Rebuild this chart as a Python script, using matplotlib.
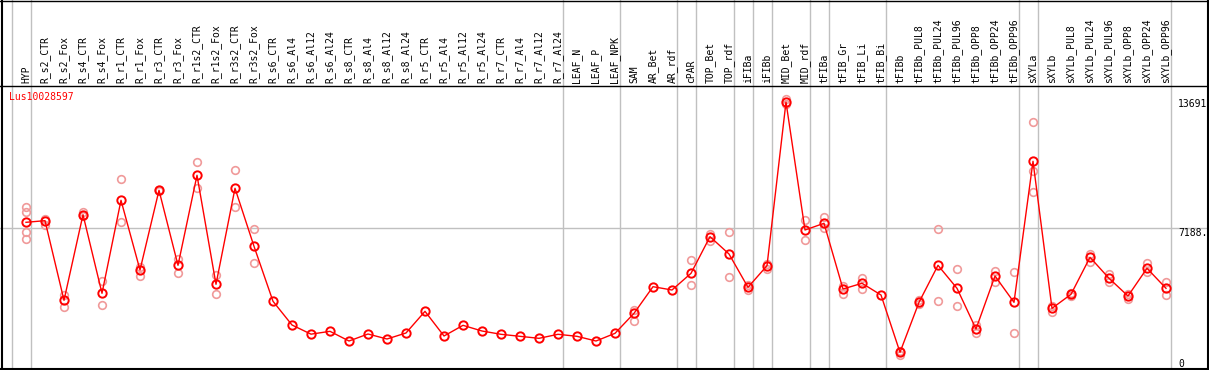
import matplotlib.pyplot as plt
from matplotlib.lines import Line2D
from matplotlib import transforms

plt.rcParams["font.family"] = "DejaVu Sans Mono"

gene = "Lus10028597"

samples = ["HYP", "R_s2_CTR", "R_s2_Fox", "R_s4_CTR", "R_s4_Fox", "R_r1_CTR",
           "R_r1_Fox", "R_r3_CTR", "R_r3_Fox", "R_r1s2_CTR", "R_r1s2_Fox",
           "R_r3s2_CTR", "R_r3s2_Fox", "R_s6_CTR", "R_s6_Al4", "R_s6_Al12",
           "R_s6_Al24", "R_s8_CTR", "R_s8_Al4", "R_s8_Al12", "R_s8_Al24",
           "R_r5_CTR", "R_r5_Al4", "R_r5_Al12", "R_r5_Al24", "R_r7_CTR",
           "R_r7_Al4", "R_r7_Al12", "R_r7_Al24", "LEAF_N", "LEAF_P", "LEAF_NPK",
           "SAM", "AR_Bet", "AR_rdf", "cPAR", "TOP_Bet", "TOP_rdf", "iFIBa",
           "iFIBb", "MID_Bet", "MID_rdf", "tFIBa", "tFIB_Gr", "tFIB_Li",
           "tFIB_Bi", "tFIBb", "tFIBb_PUL8", "tFIBb_PUL24", "tFIBb_PUL96",
           "tFIBb_OPP8", "tFIBb_OPP24", "tFIBb_OPP96", "sXYLa", "sXYLb",
           "sXYLb_PUL8", "sXYLb_PUL24", "sXYLb_PUL96", "sXYLb_OPP8",
           "sXYLb_OPP24", "sXYLb_OPP96"]

# mean expression per sample
means = [7452, 7535, 3490, 7838, 3845, 8570, 5029, 9078, 5268, 9840, 4303,
         9180, 6233, 3439, 2235, 1770, 1914, 1422, 1778, 1524, 1829, 2929,
         1676, 2218, 1930, 1763, 1660, 1558, 1763, 1660, 1422, 1812, 2828,
         4181, 4013, 4860, 6722, 5842, 4150, 5248, 13560, 7061, 7401, 4064,
         4354, 3759, 848, 3388, 5268, 4099, 2032, 4724, 3388, 10551, 3082,
         3794, 5674, 4608, 3708, 5116, 4099]

# individual replicates (empty where hidden under the mean marker)
replicates = [
    [8214, 7991, 6944, 6589], [7605, 7315], [3759, 3134], [7991, 7772],
    [4486, 3251], [9637, 7452], [5197, 4740], [9100, 9050], [5573, 4892],
    [10500, 9180], [4775, 3810], [10094, 8214], [7097, 5370],
    [], [], [], [], [], [], [], [], [], [], [], [], [], [], [], [], [], [], [],
    [2997, 2454], [], [], [5522, 4252], [6858, 6518], [6944, 4658],
    [4267, 4013], [5319, 5095], [13691, 13462], [7569, 6538], [7737, 7178],
    [4232, 3810], [4608, 4064], [], [930, 710], [3505, 3287], [7097, 3439],
    [5065, 3185], [2235, 1812], [4978, 4435], [4912, 1812],
    [12532, 10058, 9007], [3200, 2880], [3876, 3708], [5842, 5451],
    [4811, 4420], [3794, 3541], [5370, 4943], [4420, 3744],
]

# sample groups end after these indices
group_ends = [-1, 0, 28, 31, 34, 35, 37, 38, 39, 41, 42, 45, 52, 53, 60]

top_val = max(max(r) for r in replicates if r)
ymax = round(top_val * 1.05)
ytick_vals = [top_val, ymax / 2, 0]
ytick_txt = ["13691", "7188.", "0"]

W, H = 1209, 370
fig = plt.figure(figsize=(W / 100, H / 100), dpi=100)

# plot area in pixels: y from 86 (top) to 369, sample i at x = 26 + 19*i
top_px, bot_px = 86, 369
ax = fig.add_axes([0, (H - bot_px) / H, 1, (bot_px - top_px) / H])
ax.set_xlim(-26 / 19, -26 / 19 + W / 19)
ax.set_ylim(0, ymax)
ax.axis("off")

x_fig = transforms.blended_transform_factory(ax.transData, fig.transFigure)
y_fig = transforms.blended_transform_factory(fig.transFigure, ax.transData)

ext = H / (bot_px - top_px)  # whole figure height in axes fraction
for g in group_ends:
    ax.axvline(g + 0.24, ymin=-0.01, ymax=ext, color="#c0c0c0", lw=1,
               clip_on=False, zorder=1)
ax.axhline(ymax / 2, color="#c0c0c0", lw=1, zorder=1)

x = list(range(len(samples)))
for i, reps in enumerate(replicates):
    if reps:
        ax.plot([i] * len(reps), reps, "o", ms=5.5, mfc="none", mec="#f09a9a",
                mew=1.2, zorder=2)
ax.plot(x, means, "-", color="red", lw=1, zorder=3)
ax.plot(x, means, "o", ms=6, mfc="none", mec="red", mew=1.4, zorder=4)

# sample labels in the header
for i, s in enumerate(samples):
    ax.text(i, (H - 83) / H, s, rotation=90, ha="center", va="bottom",
            fontsize=7, transform=x_fig)

# value labels at the right
for v, t in zip(ytick_vals, ytick_txt):
    ax.text(1178 / W, v, t, fontsize=7, ha="left",
            va="bottom" if v == 0 else "top", transform=y_fig)

fig.text(9 / W, 1 - 97 / H, gene, color="red", fontsize=7, va="center")

# frame
def hline(y_px, lw=1):
    fig.add_artist(Line2D([0, 1], [1 - y_px / H, 1 - y_px / H],
                          color="black", lw=lw))

hline(0.5)
hline(85.5)
hline(368.5, lw=1.5)
fig.add_artist(Line2D([1.5 / W, 1.5 / W], [0, 1], color="black", lw=1.5))
fig.add_artist(Line2D([1207.5 / W, 1207.5 / W], [0, 1], color="black", lw=1.5))

fig.savefig("out.png", dpi=100)
